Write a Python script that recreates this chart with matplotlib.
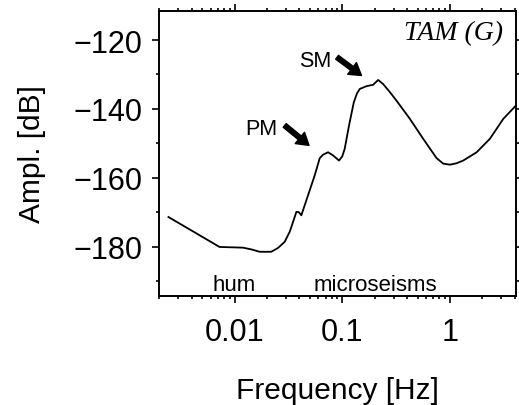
import numpy as np
import matplotlib
matplotlib.use('Agg')
import matplotlib.pyplot as plt
import matplotlib.ticker as mticker

plt.rcParams['font.family'] = ['Liberation Sans', 'DejaVu Sans']

# spectrum
freq = [0.00243, 0.00725, 0.01194, 0.01428, 0.0171, 0.0219, 0.0253, 0.0292,
        0.0325, 0.0352, 0.0375, 0.0395, 0.0417, 0.0481, 0.0555, 0.0618,
        0.0663, 0.0738, 0.0821, 0.0933, 0.1000, 0.1054, 0.1156, 0.128,
        0.137, 0.1455, 0.168, 0.1935, 0.2155, 0.240, 0.275, 0.319, 0.425,
        0.565, 0.752, 0.867, 1.0, 1.15, 1.33, 1.77, 2.35, 3.13, 4.17]
ampl = [-171.4, -180.1, -180.3, -180.8, -181.5, -181.5, -180.4, -178.6,
        -175.7, -172.5, -169.9, -170.0, -170.9, -165.1, -159.3, -154.3,
        -153.3, -152.6, -153.5, -155.0, -153.8, -151.6, -144.8, -138.1,
        -135.5, -134.2, -133.4, -133.0, -131.6, -132.8, -135.0, -137.6,
        -142.9, -148.7, -154.3, -155.9, -156.2, -155.8, -155.0, -152.6,
        -148.7, -142.9, -138.8]

xticks = [0.01, 0.1, 1]
xticklabels = ['0.01', '0.1', '1']

fig = plt.figure(figsize=(5.19, 4.06), dpi=100)
ax = fig.add_axes([0.307, 0.268, 0.687, 0.703])

ax.plot(freq, ampl, color='k', lw=1.3)

ax.set_xscale('log')
ax.set_xlim(0.002, 4.1)
ax.set_ylim(-194.4, -111.5)

ax.xaxis.set_major_locator(mticker.FixedLocator(xticks))
ax.set_xticklabels(xticklabels)
ax.xaxis.set_minor_locator(mticker.LogLocator(subs=np.arange(2, 10)))
ax.xaxis.set_minor_formatter(mticker.NullFormatter())
ax.yaxis.set_major_locator(mticker.MultipleLocator(20))
ax.yaxis.set_minor_locator(mticker.MultipleLocator(10))

ax.tick_params(which='both', direction='out', top=True, right=True,
               labelsize=22, width=1.2)
ax.tick_params(which='major', length=5)
ax.tick_params(which='minor', length=2.2)
ax.tick_params(axis='x', which='major', pad=10)
ax.tick_params(axis='y', which='major', pad=7)
for s in ax.spines.values():
    s.set_linewidth(1.4)

ax.set_xlabel('Frequency [Hz]', fontsize=21.5, labelpad=21)
ax.set_ylabel('Ampl. [dB]', fontsize=21.5, labelpad=20)

ax.text(0.964, 0.901, 'TAM (G)', transform=ax.transAxes, ha='right',
        va='baseline', fontsize=20, style='italic', family='Liberation Serif')

ax.text(0.01, -192.7, 'hum', ha='center', va='baseline', fontsize=16)
ax.text(0.204, -192.7, 'microseisms', ha='center', va='baseline', fontsize=16)

ax.text(0.0561, -127.45, 'SM', ha='center', va='baseline', fontsize=15.5)
ax.text(0.01754, -147.2, 'PM', ha='center', va='baseline', fontsize=15.5)
arrow = dict(facecolor='black', edgecolor='black', width=3.4, headwidth=10.5,
             headlength=8.5, shrink=0)
ax.annotate('', xy=(0.151, -130.3), xytext=(0.0895, -125.0), arrowprops=arrow)
ax.annotate('', xy=(0.0491, -150.6), xytext=(0.0292, -144.8), arrowprops=arrow)

fig.savefig('out.png', dpi=100)
